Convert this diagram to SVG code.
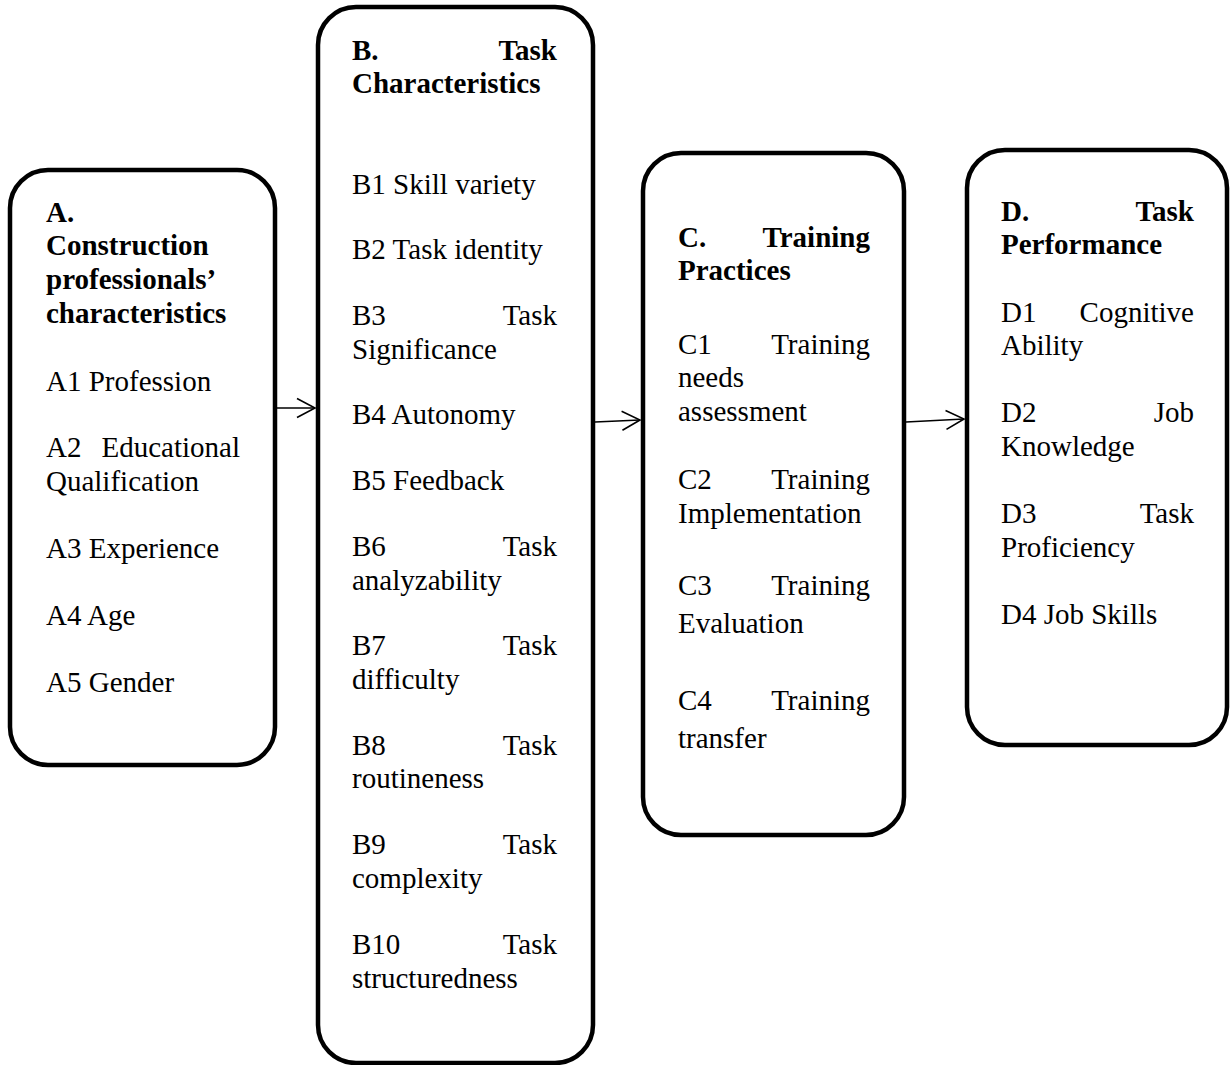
<svg xmlns="http://www.w3.org/2000/svg" width="1230" height="1065" viewBox="0 0 1230 1065">
  <style>
    .box { fill: #fff; stroke: #000; stroke-width: 4.5; }
    text { font-family: "Liberation Serif", "Times New Roman", serif; font-size: 29px; fill: #000; }
    .h { font-weight: bold; }
    .r { text-anchor: end; }
    .conn { stroke: #000; stroke-width: 1.6; fill: none; }
  </style>
  <defs>
    <marker id="arrow" markerUnits="userSpaceOnUse" markerWidth="24" markerHeight="24" viewBox="-20 -12 24 24" refX="0" refY="0" orient="auto">
      <path d="M-18,-9.5 L0,0 L-18,9.5" fill="none" stroke="#000" stroke-width="1.6"/>
    </marker>
  </defs>
  <rect width="1230" height="1065" fill="#fff"/>

  <!-- A: professionals' characteristics -->
  <g id="node-a">
    <rect class="box" x="10" y="170" width="265" height="595" rx="38" ry="38"/>
    <text class="h" x="46" y="222">A.</text>
    <text class="h" x="46" y="255">Construction</text>
    <text class="h" x="46" y="289">professionals’</text>
    <text class="h" x="46" y="323">characteristics</text>
    <text x="46" y="391">A1 Profession</text>
    <text x="46" y="457">A2<tspan class="r" x="240">Educational</tspan></text>
    <text x="46" y="491">Qualification</text>
    <text x="46" y="558">A3 Experience</text>
    <text x="46" y="625">A4 Age</text>
    <text x="46" y="692">A5 Gender</text>
  </g>

  <!-- B: task characteristics -->
  <g id="node-b">
    <rect class="box" x="318" y="7" width="275" height="1056" rx="38" ry="38"/>
    <text class="h" x="352" y="60">B.<tspan class="r" x="557">Task</tspan></text>
    <text class="h" x="352" y="93">Characteristics</text>
    <text x="352" y="194">B1 Skill variety</text>
    <text x="352" y="259">B2 Task identity</text>
    <text x="352" y="325">B3<tspan class="r" x="557">Task</tspan></text>
    <text x="352" y="359">Significance</text>
    <text x="352" y="424">B4 Autonomy</text>
    <text x="352" y="490">B5 Feedback</text>
    <text x="352" y="556">B6<tspan class="r" x="557">Task</tspan></text>
    <text x="352" y="590">analyzability</text>
    <text x="352" y="655">B7<tspan class="r" x="557">Task</tspan></text>
    <text x="352" y="689">difficulty</text>
    <text x="352" y="755">B8<tspan class="r" x="557">Task</tspan></text>
    <text x="352" y="788">routineness</text>
    <text x="352" y="854">B9<tspan class="r" x="557">Task</tspan></text>
    <text x="352" y="888">complexity</text>
    <text x="352" y="954">B10<tspan class="r" x="557">Task</tspan></text>
    <text x="352" y="988">structuredness</text>
  </g>

  <!-- C: training practices -->
  <g id="node-c">
    <rect class="box" x="643" y="153" width="261" height="682" rx="38" ry="38"/>
    <text class="h" x="678" y="247">C.<tspan class="r" x="870">Training</tspan></text>
    <text class="h" x="678" y="280">Practices</text>
    <text x="678" y="354">C1<tspan class="r" x="870">Training</tspan></text>
    <text x="678" y="387">needs</text>
    <text x="678" y="421">assessment</text>
    <text x="678" y="489">C2<tspan class="r" x="870">Training</tspan></text>
    <text x="678" y="523">Implementation</text>
    <text x="678" y="595">C3<tspan class="r" x="870">Training</tspan></text>
    <text x="678" y="633">Evaluation</text>
    <text x="678" y="710">C4<tspan class="r" x="870">Training</tspan></text>
    <text x="678" y="748">transfer</text>
  </g>

  <!-- D: task performance -->
  <g id="node-d">
    <rect class="box" x="967" y="150" width="260" height="595" rx="38" ry="38"/>
    <text class="h" x="1001" y="221">D.<tspan class="r" x="1194">Task</tspan></text>
    <text class="h" x="1001" y="254">Performance</text>
    <text x="1001" y="322">D1<tspan class="r" x="1194">Cognitive</tspan></text>
    <text x="1001" y="355">Ability</text>
    <text x="1001" y="422">D2<tspan class="r" x="1194">Job</tspan></text>
    <text x="1001" y="456">Knowledge</text>
    <text x="1001" y="523">D3<tspan class="r" x="1194">Task</tspan></text>
    <text x="1001" y="557">Proficiency</text>
    <text x="1001" y="624">D4 Job Skills</text>
  </g>

  <!-- connectors -->
  <g id="connectors">
    <line class="conn" x1="277" y1="408" x2="315" y2="408" marker-end="url(#arrow)"/>
    <line class="conn" x1="595" y1="422" x2="640" y2="420" marker-end="url(#arrow)"/>
    <line class="conn" x1="906" y1="422" x2="964" y2="419" marker-end="url(#arrow)"/>
  </g>
</svg>
